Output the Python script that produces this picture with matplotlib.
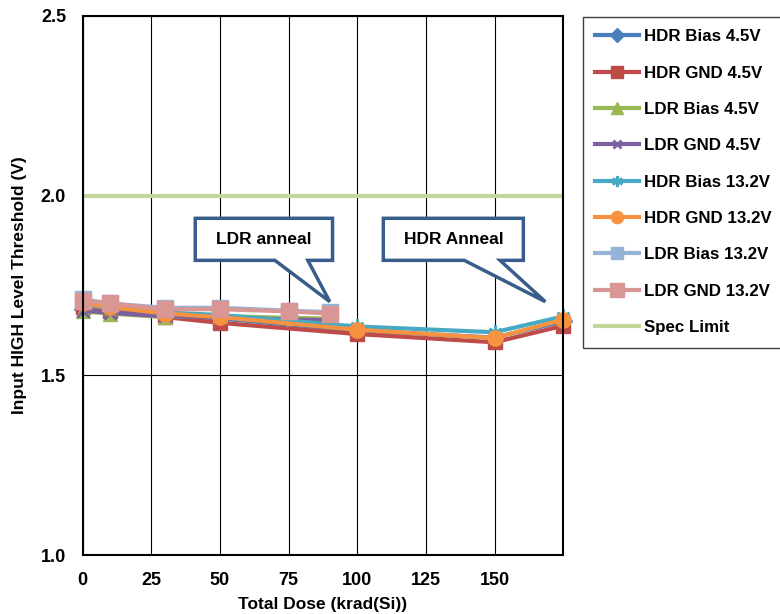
import numpy as np
import matplotlib
matplotlib.use("Agg")
import matplotlib.pyplot as plt
from matplotlib.patches import Polygon

plt.rcParams['font.family'] = ['Liberation Sans', 'DejaVu Sans']
plt.rcParams['font.weight'] = 'bold'

# dose points (krad(Si))
hdr_dose = [0, 10, 30, 50, 100, 150, 175]
ldr_dose = [0, 10, 30, 50, 75, 90]

# input HIGH level threshold (V)
hdr_bias_45 = [1.685, 1.680, 1.668, 1.658, 1.625, 1.605, 1.650]
hdr_gnd_45 = [1.690, 1.680, 1.662, 1.646, 1.615, 1.592, 1.638]
ldr_bias_45 = [1.678, 1.672, 1.662, 1.665, 1.660, 1.658]
ldr_gnd_45 = [1.680, 1.674, 1.664, 1.662, 1.655, 1.654]
hdr_bias_132 = [1.695, 1.688, 1.675, 1.668, 1.636, 1.620, 1.664]
hdr_gnd_132 = [1.700, 1.690, 1.672, 1.662, 1.627, 1.604, 1.655]
ldr_bias_132 = [1.712, 1.700, 1.688, 1.688, 1.680, 1.676]
ldr_gnd_132 = [1.708, 1.700, 1.684, 1.684, 1.678, 1.672]
spec_limit = 2.0

series = [
    ("HDR Bias 4.5V", hdr_dose, hdr_bias_45, "#4A7EBB", "D", 9),
    ("HDR GND 4.5V", hdr_dose, hdr_gnd_45, "#BE4B48", "s", 10),
    ("LDR Bias 4.5V", ldr_dose, ldr_bias_45, "#98B954", "^", 10),
    ("LDR GND 4.5V", ldr_dose, ldr_gnd_45, "#7D60A0", "x", 8),
    ("HDR Bias 13.2V", hdr_dose, hdr_bias_132, "#46AAC5", (6, 2, 0), 10),
    ("HDR GND 13.2V", hdr_dose, hdr_gnd_132, "#F69240", "o", 11),
    ("LDR Bias 13.2V", ldr_dose, ldr_bias_132, "#95B3D7", "s", 11),
    ("LDR GND 13.2V", ldr_dose, ldr_gnd_132, "#D99694", "s", 12),
]

fig = plt.figure(figsize=(7.8, 6.14), dpi=100)
ax = fig.add_axes([0.106, 0.096, 0.616, 0.878])

for name, xs, ys, col, mk, ms in series:
    ax.plot(xs, ys, color=col, lw=3, marker=mk, markersize=ms,
            markeredgecolor=col, markeredgewidth=2 if mk in ("x", (6, 2, 0)) else 1,
            label=name, zorder=3, clip_on=False)
ax.plot([0, 175], [spec_limit, spec_limit], color="#C3D69B", lw=3,
        label="Spec Limit", zorder=2.5)

ax.set_xlim(0, 175)
ax.set_ylim(1.0, 2.5)
ax.set_xticks([0, 25, 50, 75, 100, 125, 150])
ax.set_yticks([1.0, 1.5, 2.0, 2.5])
ax.set_yticklabels(["1.0", "1.5", "2.0", "2.5"])
ax.grid(True, color="black", lw=0.8, zorder=0)
ax.tick_params(length=0, labelsize=13, pad=12)
for s in ax.spines.values():
    s.set_linewidth(1.5)
    s.set_zorder(4)
ax.set_xlabel("Total Dose (krad(Si))", fontsize=12.5, fontweight="bold", labelpad=6)
ax.set_ylabel("Input HIGH Level Threshold (V)", fontsize=12.5, fontweight="bold", labelpad=10)


def callout(x0, x1, y0, y1, b0, b1, tip, text):
    pts = [(x0, y1), (x1, y1), (x1, y0), (b1, y0), tip, (b0, y0), (x0, y0)]
    ax.add_patch(Polygon(pts, closed=True, facecolor="white", edgecolor="#385D8A",
                         lw=2.5, zorder=5, joinstyle="miter"))
    ax.text((x0 + x1) / 2, (y0 + y1) / 2, text, ha="center", va="center",
            fontsize=12.5, fontweight="bold", zorder=6)


callout(41, 91, 1.82, 1.937, 70, 82, (ldr_dose[-1], 1.705), "LDR anneal")
callout(109.5, 160.5, 1.82, 1.937, 139, 152, (168.5, 1.705), "HDR Anneal")

fig.legend(loc="upper left", bbox_to_anchor=(0.747, 0.973), borderaxespad=0,
           frameon=True, fancybox=False, edgecolor="#404040", framealpha=1,
           handlelength=2.6, handletextpad=0.25, labelspacing=1.26,
           borderpad=0.75, markerscale=0.8,
           prop={"weight": "bold", "size": 12.2})

fig.savefig("out.png", dpi=100)
